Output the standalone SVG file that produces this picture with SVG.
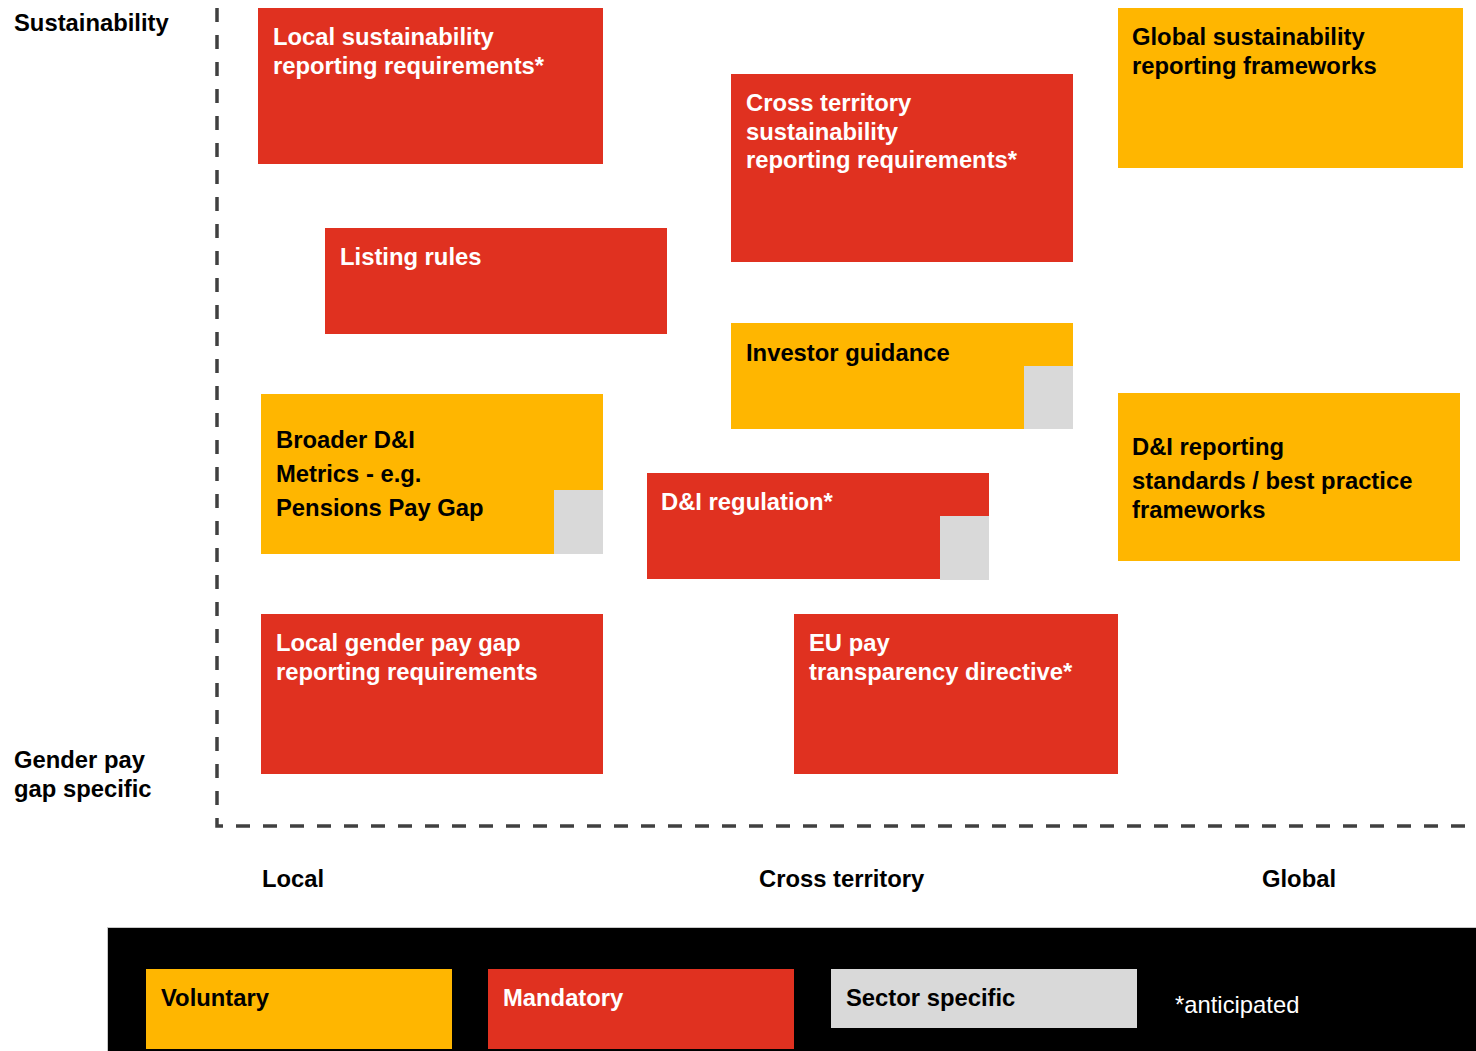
<svg xmlns="http://www.w3.org/2000/svg" width="1476" height="1051" viewBox="0 0 1476 1051">
  <style>
    text { font-family: "Liberation Sans", Arial, sans-serif; font-size: 23.8px; font-weight: bold; }
    text.reg { font-weight: normal; }
    .red { fill: #E03120; }
    .yel { fill: #FFB600; }
    .gry { fill: #D9D9D9; }
    .wt { fill: #FFFFFF; }
    .bk { fill: #000000; }
    .axis { fill: none; stroke: #404040; stroke-width: 3.5; stroke-dasharray: 14 13; }
  </style>
  <rect width="1476" height="1051" fill="#FFFFFF"/>

  <!-- axes -->
  <g id="connectors">
    <path class="axis" d="M217 8 V826 H1466"/>
  </g>

  <!-- axis labels -->
  <g id="axis-labels" class="bk">
    <text x="14" y="31">Sustainability</text>
    <text x="14" y="768">Gender pay</text>
    <text x="14" y="797">gap specific</text>
    <text x="262" y="887">Local</text>
    <text x="759" y="887">Cross territory</text>
    <text x="1262" y="887">Global</text>
  </g>

  <g id="local-sustainability">
    <rect class="red" x="258" y="8" width="345" height="156"/>
    <text class="wt" x="273" y="45">Local sustainability</text>
    <text class="wt" x="273" y="74">reporting requirements*</text>
  </g>

  <g id="cross-territory-sustainability">
    <rect class="red" x="731" y="74" width="342" height="188"/>
    <text class="wt" x="746" y="111">Cross territory</text>
    <text class="wt" x="746" y="140">sustainability</text>
    <text class="wt" x="746" y="168">reporting requirements*</text>
  </g>

  <g id="global-sustainability">
    <rect class="yel" x="1118" y="8" width="345" height="160"/>
    <text class="bk" x="1132" y="45">Global sustainability</text>
    <text class="bk" x="1132" y="74">reporting frameworks</text>
  </g>

  <g id="listing-rules">
    <rect class="red" x="325" y="228" width="342" height="106"/>
    <text class="wt" x="340" y="265">Listing rules</text>
  </g>

  <g id="investor-guidance">
    <rect class="yel" x="731" y="323" width="342" height="106"/>
    <rect class="gry" x="1024" y="366" width="49" height="63"/>
    <text class="bk" x="746" y="361">Investor guidance</text>
  </g>

  <g id="broader-di-metrics">
    <rect class="yel" x="261" y="394" width="342" height="160"/>
    <rect class="gry" x="554" y="490" width="49" height="64"/>
    <text class="bk" x="276" y="448">Broader D&amp;I</text>
    <text class="bk" x="276" y="482">Metrics - e.g.</text>
    <text class="bk" x="276" y="516">Pensions Pay Gap</text>
  </g>

  <g id="di-regulation">
    <rect class="red" x="647" y="473" width="342" height="106"/>
    <rect class="gry" x="940" y="516" width="49" height="64"/>
    <text class="wt" x="661" y="510">D&amp;I regulation*</text>
  </g>

  <g id="di-reporting-standards">
    <rect class="yel" x="1118" y="393" width="342" height="168"/>
    <text class="bk" x="1132" y="455">D&amp;I reporting</text>
    <text class="bk" x="1132" y="489">standards / best practice</text>
    <text class="bk" x="1132" y="518">frameworks</text>
  </g>

  <g id="local-gender-pay-gap">
    <rect class="red" x="261" y="614" width="342" height="160"/>
    <text class="wt" x="276" y="651">Local gender pay gap</text>
    <text class="wt" x="276" y="680">reporting requirements</text>
  </g>

  <g id="eu-pay-transparency">
    <rect class="red" x="794" y="614" width="324" height="160"/>
    <text class="wt" x="809" y="651">EU pay</text>
    <text class="wt" x="809" y="680">transparency directive*</text>
  </g>

  <!-- legend -->
  <g id="legend">
    <rect x="107.5" y="927.5" width="1370" height="130" fill="#000000" stroke="#C8C8C8" stroke-width="1"/>
    <rect class="yel" x="146" y="969" width="306" height="80"/>
    <text class="bk" x="161" y="1006">Voluntary</text>
    <rect class="red" x="488" y="969" width="306" height="80"/>
    <text class="wt" x="503" y="1006">Mandatory</text>
    <rect class="gry" x="831" y="969" width="306" height="59"/>
    <text class="bk" x="846" y="1006">Sector specific</text>
    <text class="wt reg" x="1175" y="1013">*anticipated</text>
  </g>
</svg>
